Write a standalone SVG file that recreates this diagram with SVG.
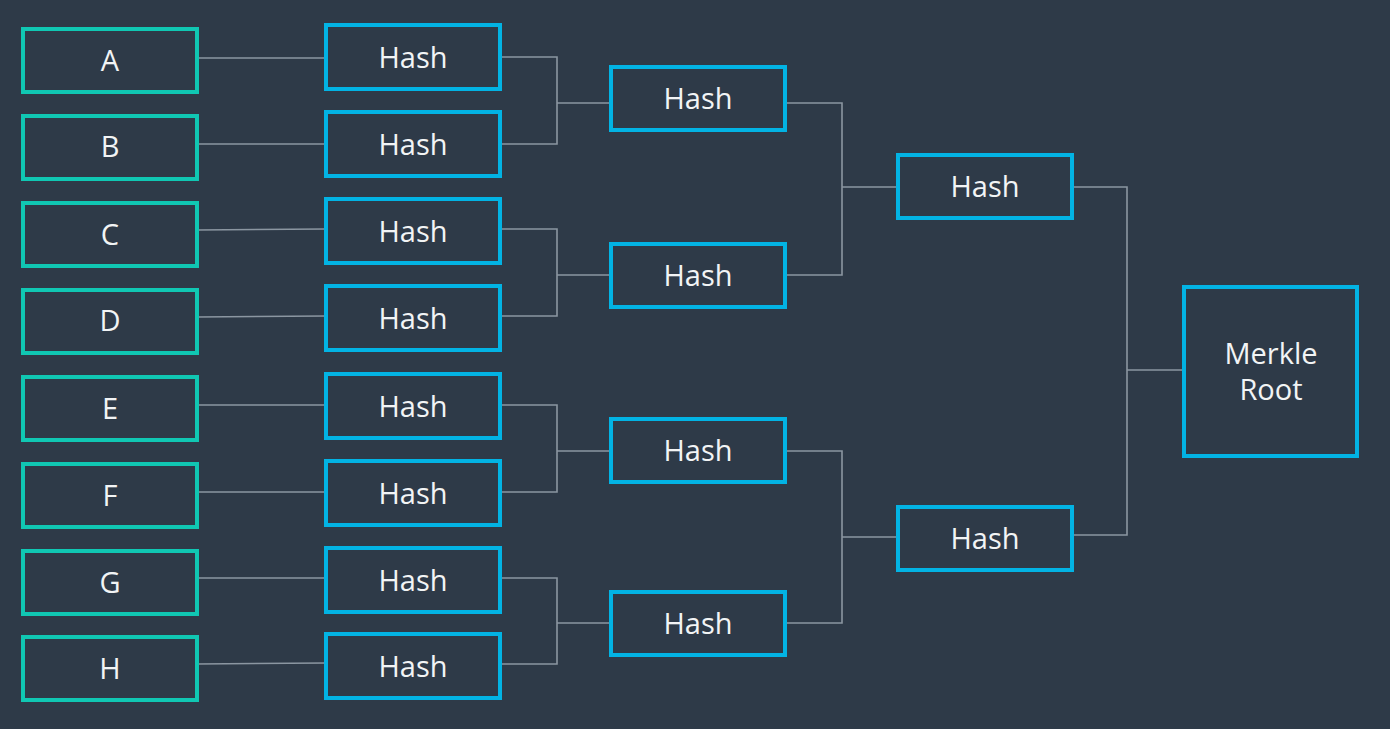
<svg xmlns="http://www.w3.org/2000/svg" width="1390" height="729" viewBox="0 0 1390 729">
<style>
.leaf{fill:#2e3a48;stroke:#10c7b3;stroke-width:4}
.hash{fill:#2e3a48;stroke:#02b3e4;stroke-width:4}
.t{font-family:"Open Sans","Noto Sans",sans-serif;font-size:29px;fill:#f2f4f5;text-anchor:middle}
.c{fill:none;stroke:#8b96a1;stroke-width:1.6}
</style>
<rect width="1390" height="729" fill="#2e3a48"/>
<g id="connectors">
<path class="c" d="M197 58H326M197 144H326M197 230L326 229M197 317L326 316M197 405H326M197 492H326M197 578H326M197 664L326 663"/>
<path class="c" d="M500 57H557V144H500M557 103H611"/>
<path class="c" d="M500 229H557V316H500M557 275H611"/>
<path class="c" d="M500 405H557V492H500M557 451H611"/>
<path class="c" d="M500 578H557V664H500M557 623H611"/>
<path class="c" d="M785 103H842V275H785M842 187H898"/>
<path class="c" d="M785 451H842V623H785M842 537H898"/>
<path class="c" d="M1072 187H1127V535H1072M1127 370H1184"/>
</g>
<g id="leafA"><rect class="leaf" x="23" y="29" width="174" height="63"/><text class="t" x="110" y="71">A</text></g>
<g id="leafB"><rect class="leaf" x="23" y="116" width="174" height="63"/><text class="t" x="110" y="157">B</text></g>
<g id="leafC"><rect class="leaf" x="23" y="203" width="174" height="63"/><text class="t" x="110" y="245">C</text></g>
<g id="leafD"><rect class="leaf" x="23" y="290" width="174" height="63"/><text class="t" x="110" y="331">D</text></g>
<g id="leafE"><rect class="leaf" x="23" y="377" width="174" height="63"/><text class="t" x="110" y="419">E</text></g>
<g id="leafF"><rect class="leaf" x="23" y="464" width="174" height="63"/><text class="t" x="110" y="506">F</text></g>
<g id="leafG"><rect class="leaf" x="23" y="551" width="174" height="63"/><text class="t" x="110" y="593">G</text></g>
<g id="leafH"><rect class="leaf" x="23" y="637" width="174" height="63"/><text class="t" x="110" y="679">H</text></g>
<g id="hashA"><rect class="hash" x="326" y="25" width="174" height="64"/><text class="t" x="413" y="68">Hash</text></g>
<g id="hashB"><rect class="hash" x="326" y="112" width="174" height="64"/><text class="t" x="413" y="155">Hash</text></g>
<g id="hashC"><rect class="hash" x="326" y="199" width="174" height="64"/><text class="t" x="413" y="242">Hash</text></g>
<g id="hashD"><rect class="hash" x="326" y="286" width="174" height="64"/><text class="t" x="413" y="329">Hash</text></g>
<g id="hashE"><rect class="hash" x="326" y="374" width="174" height="64"/><text class="t" x="413" y="417">Hash</text></g>
<g id="hashF"><rect class="hash" x="326" y="461" width="174" height="64"/><text class="t" x="413" y="504">Hash</text></g>
<g id="hashG"><rect class="hash" x="326" y="548" width="174" height="64"/><text class="t" x="413" y="591">Hash</text></g>
<g id="hashH"><rect class="hash" x="326" y="634" width="174" height="64"/><text class="t" x="413" y="677">Hash</text></g>
<g id="hashAB"><rect class="hash" x="611" y="67" width="174" height="63"/><text class="t" x="698" y="109">Hash</text></g>
<g id="hashCD"><rect class="hash" x="611" y="244" width="174" height="63"/><text class="t" x="698" y="286">Hash</text></g>
<g id="hashEF"><rect class="hash" x="611" y="419" width="174" height="63"/><text class="t" x="698" y="461">Hash</text></g>
<g id="hashGH"><rect class="hash" x="611" y="592" width="174" height="63"/><text class="t" x="698" y="634">Hash</text></g>
<g id="hashABCD"><rect class="hash" x="898" y="155" width="174" height="63"/><text class="t" x="985" y="197">Hash</text></g>
<g id="hashEFGH"><rect class="hash" x="898" y="507" width="174" height="63"/><text class="t" x="985" y="549">Hash</text></g>
<g id="root"><rect class="hash" x="1184" y="287" width="173" height="169"/><text class="t" x="1271" y="364">Merkle</text><text class="t" x="1271" y="400">Root</text></g>
</svg>
